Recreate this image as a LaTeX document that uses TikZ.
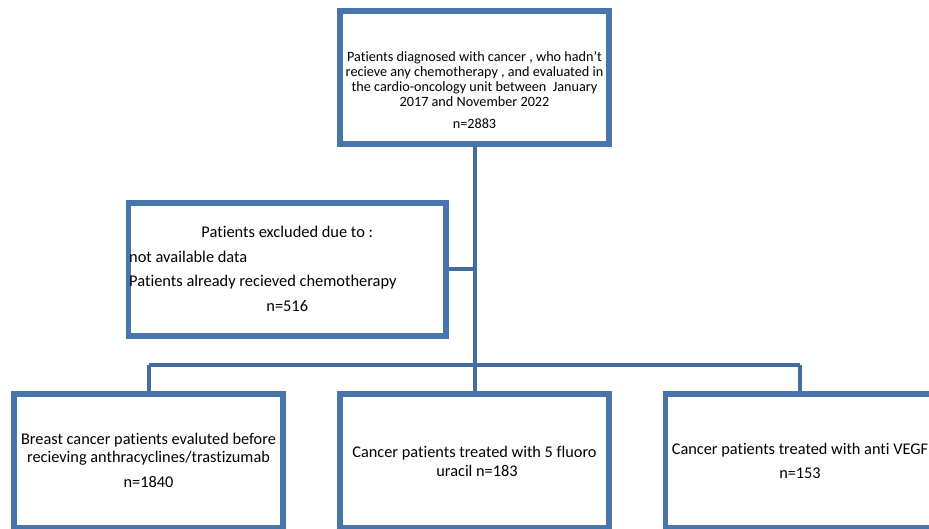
\documentclass[tikz,border=0pt]{standalone}
\usepackage{fontspec}
\setmainfont{Carlito}[Ligatures={NoCommon}]
\usetikzlibrary{shadows}
\definecolor{boxblue}{RGB}{72,117,172}
\definecolor{lineblue}{RGB}{66,108,162}
\tikzset{
  box/.style={draw=boxblue, line width=5.5pt, fill=white, rectangle, inner sep=0pt,
    drop shadow={shadow xshift=0.8pt, shadow yshift=-2pt, fill=black!40, opacity=0.35}},
  conn/.style={draw=lineblue, line width=4pt},
  ttop/.style={anchor=base, inner sep=0pt, font=\fontsize{14.2}{16}\selectfont},
  texc/.style={anchor=base, inner sep=0pt, font=\fontsize{16.4}{18}\selectfont},
  tbot/.style={anchor=base, inner sep=0pt, font=\fontsize{16.3}{18}\selectfont},
}
\begin{document}
\begin{tikzpicture}[x=1pt,y=-1pt]
\useasboundingbox (0,0) rectangle (929,529);
\clip (0,0) rectangle (929,529);
% boxes
\node[box, minimum width=269pt, minimum height=133pt] (top) at (474.5,77.5) {};
\node[box, minimum width=317.5pt, minimum height=133pt] (exc) at (287.25,269.5) {};
\node[box, minimum width=269pt, minimum height=134pt] (b1) at (148.5,461) {};
\node[box, minimum width=269pt, minimum height=134pt] (b2) at (474.5,461) {};
\node[box, minimum width=269pt, minimum height=134pt] (b3) at (800,461) {};
% connectors
\coordinate (j1) at (top.south |- exc.east);
\coordinate (bar) at (474.5,365);
\coordinate (barL) at (b1.north |- bar);
\coordinate (barR) at (b3.north |- bar);
\draw[conn] (top.south) -- (bar);
\draw[conn] (exc.east) -- (j1);
\draw[conn] (barL) -- (barR);
\draw[conn] (barL) -- (b1.north);
\draw[conn] (bar) -- (b2.north);
\draw[conn] (barR) -- (b3.north);
% top text
\node[ttop] (t1) at (474.5,61.5) {Patients diagnosed with cancer , who hadn't};
\node[ttop] (t2) at (474.5,76.5) {recieve any chemotherapy , and evaluated in};
\node[ttop] (t3) at (474.5,91.5) {the cardio-oncology unit between\ \ January};
\node[ttop] (t4) at (474.5,106.5) {2017 and November 2022};
\node[ttop] (t5) at (474.5,128.5) {n=2883};
% exclusion text
\node[texc] (e1) at (287.25,238) {Patients excluded due to :};
\node[texc, anchor=base west] (e2) at (129,263) {not available data};
\node[texc, anchor=base west] (e3) at (129,287) {Patients already recieved chemotherapy};
\node[texc] (e4) at (287.25,312) {n=516};
% bottom texts
\node[tbot] (l1) at (148.5,444) {Breast cancer patients evaluted before};
\node[tbot] (l2) at (148.5,462) {recieving anthracyclines/trastizumab};
\node[tbot] (l3) at (148.5,487) {n=1840};
\node[tbot] (m1) at (474.5,457) {Cancer patients treated with 5 fluoro};
\node[tbot] (m2) at (477,476) {uracil n=183};
\node[tbot] (r1) at (800,454) {Cancer patients treated with anti VEGF};
\node[tbot] (r2) at (800,478) {n=153};
\end{tikzpicture}
\end{document}
